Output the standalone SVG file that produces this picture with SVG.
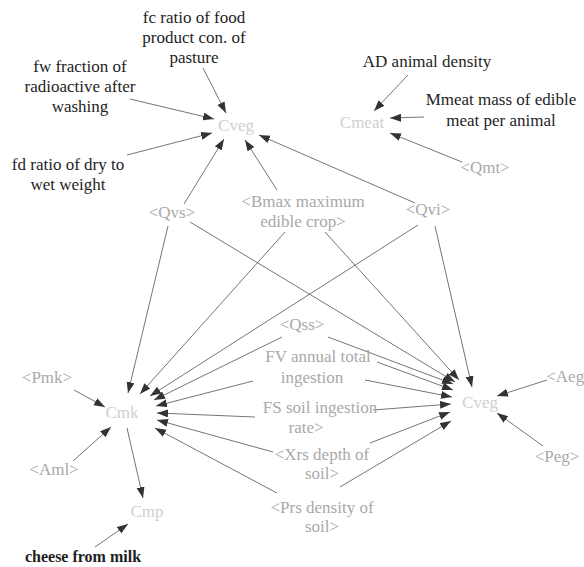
<svg xmlns="http://www.w3.org/2000/svg" width="584" height="567" viewBox="0 0 584 567">
<style>
text{font-family:"Liberation Serif","Times New Roman",serif;font-size:17px;text-anchor:middle}
.k{fill:#1e1e1e}
.g{fill:#a9a9a9}
.c{fill:#cfcfcf}
.b{font-weight:bold;font-size:16px}
.e line{stroke:#757575;stroke-width:1;marker-end:url(#ah)}
</style>
<defs>
<marker id="ah" markerUnits="userSpaceOnUse" markerWidth="12" markerHeight="9" refX="11" refY="4" orient="auto">
<path d="M0,0 L11,4 L0,8 z" fill="#333"/>
</marker>
</defs>
<rect width="584" height="567" fill="#fff"/>
<g id="edges" class="e">
<line x1="203" y1="68" x2="226" y2="113"/>
<line x1="130" y1="99" x2="214" y2="119"/>
<line x1="127" y1="155" x2="212" y2="133"/>
<line x1="184" y1="204" x2="224" y2="139"/>
<line x1="277" y1="190" x2="245" y2="140"/>
<line x1="415" y1="203" x2="259" y2="135"/>
<line x1="408" y1="75" x2="374" y2="111"/>
<line x1="424" y1="117" x2="390" y2="118"/>
<line x1="462" y1="162" x2="390" y2="133"/>
<line x1="168" y1="226" x2="128" y2="393"/>
<line x1="285" y1="232" x2="140" y2="394"/>
<line x1="418" y1="225" x2="150" y2="396"/>
<line x1="282" y1="337" x2="154" y2="400"/>
<line x1="253" y1="381" x2="156" y2="406"/>
<line x1="255" y1="417" x2="157" y2="413"/>
<line x1="273" y1="452" x2="157" y2="420"/>
<line x1="277" y1="493" x2="155" y2="428"/>
<line x1="74" y1="390" x2="105" y2="407"/>
<line x1="73" y1="461" x2="111" y2="427"/>
<line x1="127" y1="428" x2="143" y2="498"/>
<line x1="95" y1="547" x2="128" y2="524"/>
<line x1="190" y1="222" x2="455" y2="382"/>
<line x1="325" y1="232" x2="459" y2="380"/>
<line x1="435" y1="226" x2="472" y2="387"/>
<line x1="328" y1="337" x2="453" y2="384"/>
<line x1="377" y1="362" x2="453" y2="390"/>
<line x1="365" y1="380" x2="452" y2="397"/>
<line x1="373" y1="410" x2="451" y2="404"/>
<line x1="370" y1="443" x2="450" y2="412"/>
<line x1="340" y1="487" x2="451" y2="421"/>
<line x1="547" y1="380" x2="497" y2="396"/>
<line x1="543" y1="446" x2="497" y2="413"/>
</g>
<g id="fc"><text class="k" x="194" y="23">fc ratio of food<tspan x="194" dy="20">product con. of</tspan><tspan x="194" dy="20">pasture</tspan></text></g>
<g id="fw"><text class="k" x="80" y="72">fw fraction of<tspan x="80" dy="20">radioactive after</tspan><tspan x="80" dy="20">washing</tspan></text></g>
<g id="fd"><text class="k" x="68" y="170">fd ratio of dry to<tspan x="68" dy="20">wet weight</tspan></text></g>
<g id="cveg1"><text class="c" x="236" y="131">Cveg</text></g>
<g id="ad"><text class="k" x="427" y="67">AD animal density</text></g>
<g id="mmeat"><text class="k" x="501" y="105">Mmeat mass of edible<tspan x="501" dy="21">meat per animal</tspan></text></g>
<g id="cmeat"><text class="c" x="362" y="128">Cmeat</text></g>
<g id="qmt"><text class="g" x="485" y="173">&lt;Qmt&gt;</text></g>
<g id="bmax"><text class="g" x="303" y="207">&lt;Bmax maximum<tspan x="303" dy="20">edible crop&gt;</tspan></text></g>
<g id="qvs"><text class="g" x="172" y="218">&lt;Qvs&gt;</text></g>
<g id="qvi"><text class="g" x="428" y="215">&lt;Qvi&gt;</text></g>
<g id="qss"><text class="g" x="302" y="330">&lt;Qss&gt;</text></g>
<g id="fv"><text class="g" x="318" y="362">FV annual total<tspan x="312" dy="21">ingestion</tspan></text></g>
<g id="fs"><text class="g" x="320" y="413">FS soil ingestion<tspan x="306" dy="20">rate&gt;</tspan></text></g>
<g id="xrs"><text class="g" x="322" y="460">&lt;Xrs depth of<tspan x="322" dy="19">soil&gt;</tspan></text></g>
<g id="prs"><text class="g" x="322" y="513">&lt;Prs density of<tspan x="322" dy="19">soil&gt;</tspan></text></g>
<g id="pmk"><text class="g" x="47" y="383">&lt;Pmk&gt;</text></g>
<g id="cmk"><text class="c" x="122" y="418">Cmk</text></g>
<g id="aml"><text class="g" x="54" y="475">&lt;Aml&gt;</text></g>
<g id="cmp"><text class="c" x="147" y="517">Cmp</text></g>
<g id="cheese"><text class="k b" x="83" y="562">cheese from milk</text></g>
<g id="cveg2"><text class="c" x="480" y="408">Cveg</text></g>
<g id="aeg"><text class="g" x="570" y="382">&lt;Aeg&gt;</text></g>
<g id="peg"><text class="g" x="557" y="462">&lt;Peg&gt;</text></g>
</svg>
